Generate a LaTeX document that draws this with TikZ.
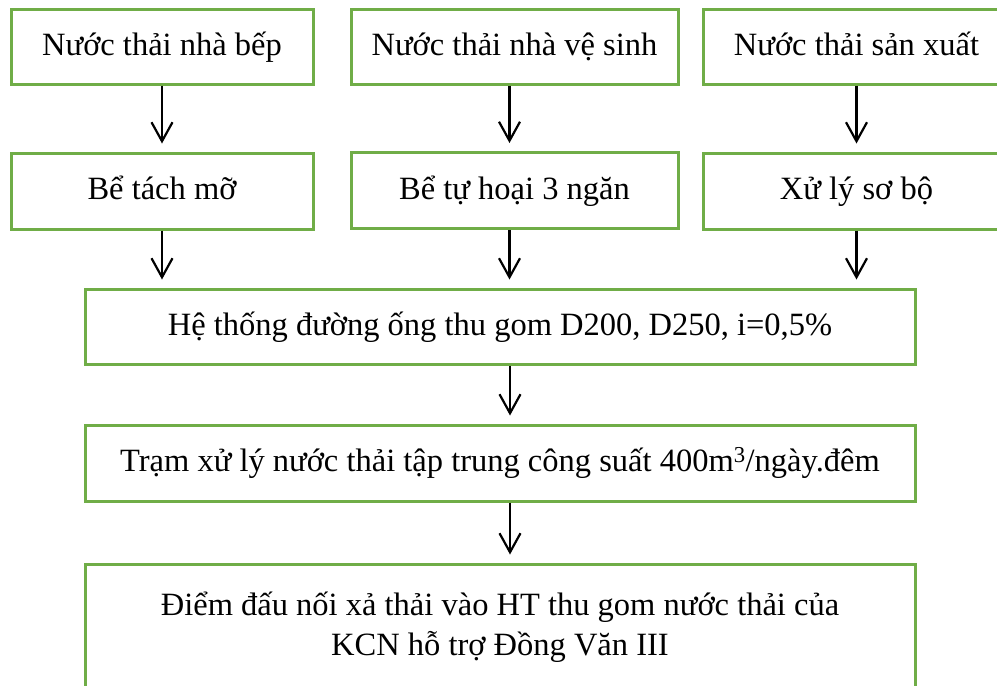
\documentclass[tikz,border=0pt]{standalone}
\usepackage{fontspec}
\setmainfont{Liberation Serif}
\usetikzlibrary{arrows.meta}
\definecolor{boxgreen}{RGB}{112,173,71}
\begin{document}
\begin{tikzpicture}[x=1pt,y=-1pt,
  box/.style={draw=boxgreen, line width=3pt, inner sep=0pt, align=center,
    font=\fontsize{32.5}{40}\selectfont},
  one/.style={text height=22pt, text depth=5pt},
  arr/.style={-{Straight Barb[length=19pt,width=21pt]}, line width=2.2pt, shorten >=8pt}]
\useasboundingbox (0,0) rectangle (997,686);
% top row
\node[box, one, minimum width=302pt, minimum height=75pt] (b1) at (162,46.5) {Nước thải nhà bếp};
\node[box, one, minimum width=327pt, minimum height=75pt] (b2) at (514.5,46.5) {Nước thải nhà vệ sinh};
\node[box, one, minimum width=307pt, minimum height=75pt] (b3) at (856.5,46.5) {Nước thải sản xuất};
% second row
\node[box, one, minimum width=302pt, minimum height=76pt] (b4) at (162,191) {Bể tách mỡ};
\node[box, one, minimum width=327pt, minimum height=76pt] (b5) at (514.5,190.5) {Bể tự hoại 3 ngăn};
\node[box, one, minimum width=307pt, minimum height=76pt] (b6) at (856.5,191) {Xử lý sơ bộ};
% lower boxes
\node[box, one, minimum width=830pt, minimum height=75pt] (b7) at (500,326.5) {Hệ thống đường ống thu gom D200, D250, i=0,5\%};
\node[box, one, minimum width=830pt, minimum height=76pt] (b8) at (500,463) {Trạm xử lý nước thải tập trung công suất 400m\textsuperscript{3}/ngày.đêm};
\node[box, minimum width=830pt, minimum height=126pt] (b9) at (500,627) {Điểm đấu nối xả thải vào HT thu gom nước thải của\\KCN hỗ trợ Đồng Văn III};
% arrows
\draw[arr] (b1.south) -- (b4.north);
\draw[arr] ([xshift=-5pt]b2.south) -- ([xshift=-5pt]b5.north);
\draw[arr] (b3.south) -- (b6.north);
\draw[arr] (b4.south) -- (b4.south |- b7.north);
\draw[arr] ([xshift=-5pt]b5.south) -- ([xshift=-5pt]b5.south |- b7.north);
\draw[arr] (b6.south) -- (b6.south |- b7.north);
\draw[arr] ([xshift=10pt]b7.south) -- ([xshift=10pt]b8.north);
\draw[arr] ([xshift=10pt]b8.south) -- ([xshift=10pt]b9.north);
\end{tikzpicture}
\end{document}
